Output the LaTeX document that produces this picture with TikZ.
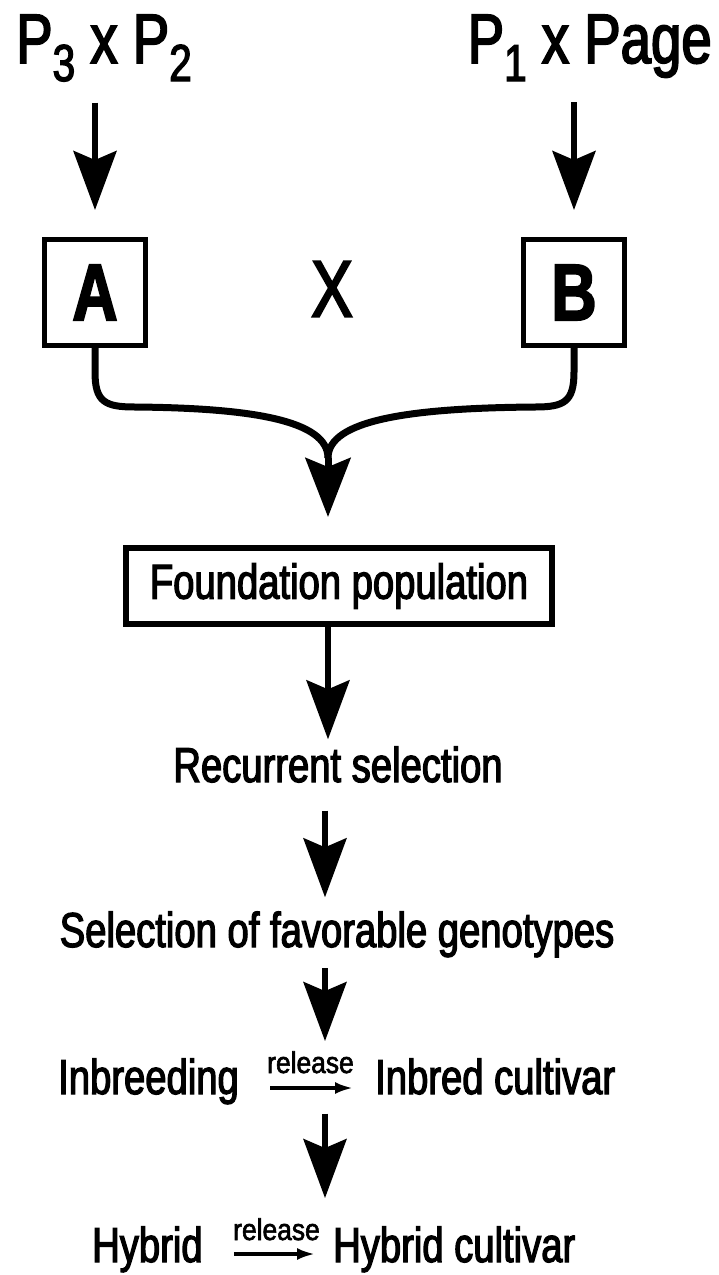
\documentclass[tikz,border=0pt]{standalone}
\usepackage{fontspec}
\setmainfont{Liberation Sans}[FakeStretch=0.78, FakeBold=2.5]
\newfontfamily\relfont{Liberation Sans}[FakeStretch=0.88, FakeBold=2]
\usetikzlibrary{arrows.meta,calc}
\newcommand{\subnum}[1]{\raisebox{-18pt}{\fontsize{52}{52}\selectfont #1}}
\begin{document}
\begin{tikzpicture}[x=1pt,y=-1pt,
  txt/.style={inner sep=0pt, font=\fontsize{49}{58}\selectfont},
  toptxt/.style={inner sep=0pt, font=\fontsize{70}{80}\selectfont},
  letterbox/.style={draw, line width=5pt, minimum width=101pt, minimum height=106pt, inner sep=0pt, font=\bfseries\fontsize{80}{90}\selectfont},
  mainbox/.style={draw, line width=6pt, minimum width=426pt, minimum height=76pt, inner sep=0pt, font=\fontsize{49}{58}\selectfont},
  reltxt/.style={inner sep=0pt, font=\relfont\fontsize{30}{32}\selectfont},
  bigarrow/.style={line width=5.5pt, -{Stealth[length=59pt, width=43pt, inset=9pt]}},
  curve/.style={line width=7pt},
  relarrow/.style={line width=3.5pt, -{Latex[length=18pt, width=12pt]}},
]
\useasboundingbox (0,0) rectangle (718,1275);

% top parents
\node[toptxt, anchor=base west] (p32) at (16,63) {P\subnum{3} x P\subnum{2}};
\node[toptxt, anchor=base east] (p1page) at (712,63) {P\subnum{1} x Page};

% boxes A and B
\node[letterbox] (A) at (95,292.5) {A};
\node[letterbox] (B) at (574,292.5) {B};
\node[inner sep=0pt, font=\fontsize{80}{82}\selectfont] (X) at (332,289) {X};

\draw[bigarrow, shorten <=21pt, shorten >=27pt] (p32.south -| A) -- (A.north);
\draw[bigarrow, shorten <=21pt, shorten >=27pt] (p1page.south -| B) -- (B.north);

% foundation
\node[mainbox] (F) at (339,586) {Foundation population};
\coordinate (m) at (328,458);
\coordinate (col) at (325,1000);

\draw[curve] (A.south) -- (95,372) .. controls (95,402) and (105,407) .. (135,407)
   .. controls (250,408) and (328,420) .. (m);
\draw[curve] (B.south) -- (574,372) .. controls (574,402) and (564,407) .. (535,407)
   .. controls (410,408) and (328,420) .. (m);
\draw[line width=7pt, -{Stealth[length=59pt, width=45pt, inset=9pt]}, shorten >=28pt] (m) -- (m |- F.north);

% chain
\node[txt, anchor=base] (rec) at (338,782) {Recurrent selection};
\node[txt, anchor=base] (sel) at (337,947) {Selection of favorable genotypes};

\node[txt, anchor=base west] (inb) at (58,1094) {Inbreeding};
\node[reltxt, anchor=base west] (rel1) at (267,1073) {release};
\node[txt, anchor=base west] (inbc) at (375,1094) {Inbred cultivar};

\node[txt, anchor=base west] (hyb) at (92,1262) {Hybrid};
\node[reltxt, anchor=base west] (rel2) at (233,1240) {release};
\node[txt, anchor=base west] (hybc) at (333,1262) {Hybrid cultivar};

\draw[bigarrow, shorten >=7pt] (F.south -| m) -- (rec.north -| m);
\draw[bigarrow, shorten <=28pt, shorten >=14pt] (rec.south -| col) -- (sel.north -| col);
\draw[bigarrow, shorten <=11pt, shorten >=10pt] (sel.south -| col) -- (rel1.north -| col);
\draw[bigarrow, shorten <=19pt, shorten >=20pt] (inbc.south -| col) -- (rel2.north -| col);

\draw[relarrow, shorten <=31pt, shorten >=22pt] ($(inb.base east)+(0,-6)$) -- ($(inbc.base west)+(0,-6)$);
\draw[relarrow, shorten <=31pt, shorten >=18pt] ($(hyb.base east)+(0,-8)$) -- ($(hybc.base west)+(0,-8)$);
\end{tikzpicture}
\end{document}
